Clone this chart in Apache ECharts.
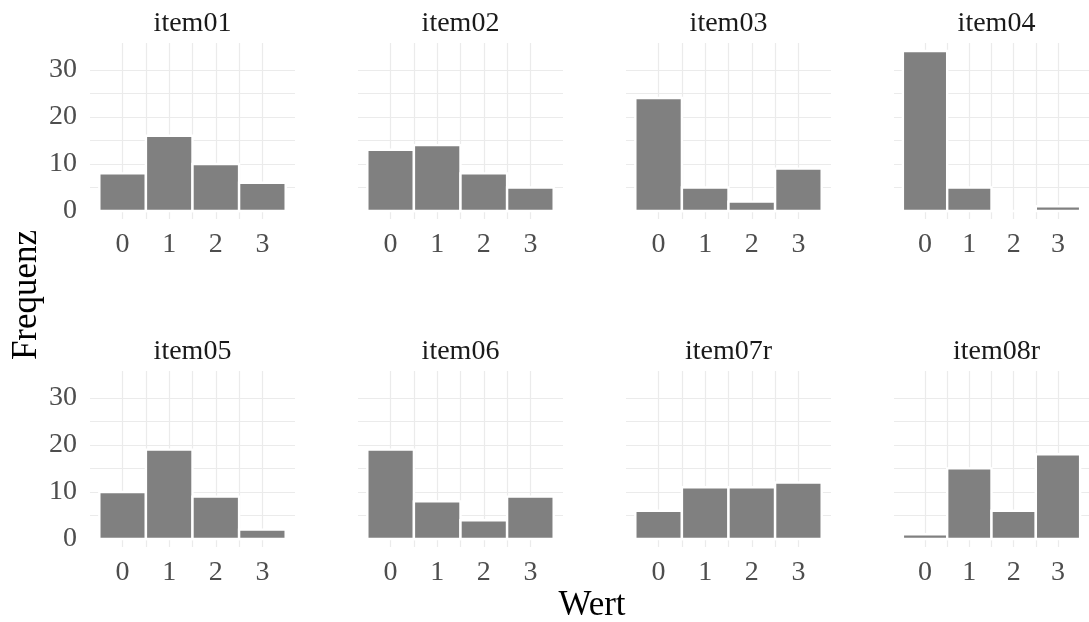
<!DOCTYPE html>
<html>
<head>
<meta charset="utf-8">
<script src="https://cdn.jsdelivr.net/npm/echarts@6/dist/echarts.min.js"></script>
<style>
html,body{margin:0;padding:0;background:#fff;}
#chart{width:1089px;height:622px;}
</style>
</head>
<body>
<div id="chart"></div>
<script>
// ---- data ----
const categories = [0, 1, 2, 3];
const itemNames = ['item01', 'item02', 'item03', 'item04', 'item05', 'item06', 'item07r', 'item08r'];
const item01 = [8, 16, 10, 6];
const item02 = [13, 14, 8, 5];
const item03 = [24, 5, 2, 9];
const item04 = [34, 5, 0, 1];
const item05 = [10, 19, 9, 2];
const item06 = [19, 8, 4, 9];
const item07r = [6, 11, 11, 12];
const item08r = [1, 15, 6, 18];
const xTickLabels = [0, 1, 2, 3];
const yTickLabels = [0, 10, 20, 30];
const xGridValues = [-0.5, 0, 0.5, 1, 1.5, 2, 2.5, 3, 3.5];
const yGridValues = [0, 5, 10, 15, 20, 25, 30, 35];

const seriesValues = [item01, item02, item03, item04, item05, item06, item07r, item08r];

// ---- layout ----
const FONT = '"Liberation Serif", "DejaVu Serif", serif';
const colLeft = [90, 358, 626, 894];
const panelW = 205;
const rowTop = [43, 371];
const panelH = 176;

const grids = [], xAxes = [], yAxes = [], series = [], graphics = [];
itemNames.forEach((name, i) => {
  const r = Math.floor(i / 4), c = i % 4;
  grids.push({ left: colLeft[c], top: rowTop[r], width: panelW, height: panelH, containLabel: false });
  xAxes.push({
    type: 'value', gridIndex: i, min: -0.7, max: 3.7,
    axisLine: { show: false },
    axisTick: { show: false, customValues: xGridValues },
    axisLabel: { customValues: xTickLabels, color: '#4d4d4d', fontFamily: FONT, fontSize: 28, margin: 12 },
    splitLine: { show: true, showMinLine: false, showMaxLine: false, lineStyle: { color: '#ebebeb', width: 1.2 } }
  });
  yAxes.push({
    type: 'value', gridIndex: i, min: -1.7, max: 35.7,
    axisLine: { show: false },
    axisTick: { show: false, customValues: yGridValues },
    axisLabel: { show: c === 0, customValues: yTickLabels, color: '#4d4d4d', fontFamily: FONT, fontSize: 28, margin: 13 },
    splitLine: { show: true, showMinLine: false, showMaxLine: false, lineStyle: { color: '#ebebeb', width: 1.2 } }
  });
  series.push({
    type: 'custom', name: name, xAxisIndex: i, yAxisIndex: i,
    data: categories.map((cat, k) => [cat, seriesValues[i][k]]),
    renderItem: function (params, api) {
      const x = api.value(0), y = api.value(1);
      const p0 = api.coord([x - 0.5, y]);
      const p1 = api.coord([x + 0.5, 0]);
      return {
        type: 'rect',
        shape: { x: p0[0], y: p0[1], width: p1[0] - p0[0], height: p1[1] - p0[1] },
        style: { fill: '#808080', stroke: '#ffffff', lineWidth: 2.4 }
      };
    }
  });
  graphics.push({
    type: 'text', x: colLeft[c] + panelW / 2, y: rowTop[r] - 19,
    style: { text: name, font: '28px ' + FONT, fill: '#1a1a1a', textAlign: 'center', textVerticalAlign: 'middle' }
  });
});

graphics.push({
  type: 'text', x: 592, y: 606,
  style: { text: 'Wert', font: '35px ' + FONT, fill: '#000', textAlign: 'center', textVerticalAlign: 'middle' }
});
graphics.push({
  type: 'text', x: 27, y: 295, rotation: Math.PI / 2,
  style: { text: 'Frequenz', font: '35px ' + FONT, fill: '#000', textAlign: 'center', textVerticalAlign: 'middle' }
});

const chart = echarts.init(document.getElementById('chart'), null, { renderer: 'canvas' });
chart.setOption({
  animation: false,
  backgroundColor: '#ffffff',
  grid: grids,
  xAxis: xAxes,
  yAxis: yAxes,
  series: series,
  graphic: graphics
});
</script>
</body>
</html>
